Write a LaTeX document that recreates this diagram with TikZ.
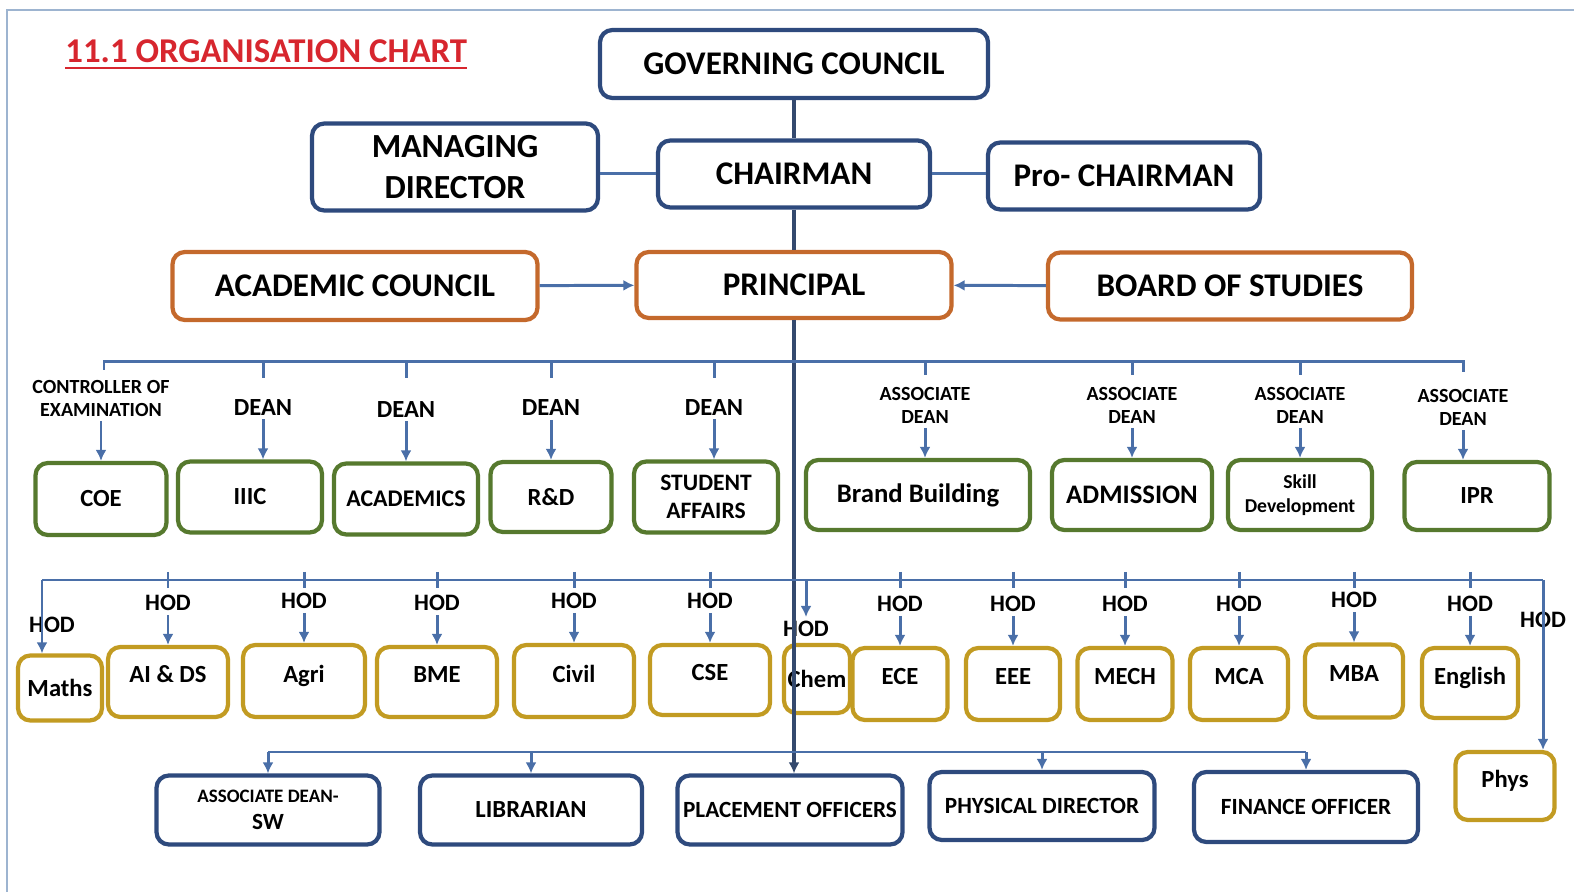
\documentclass[tikz,border=0pt]{standalone}
\usepackage{fontspec}
\setmainfont{Carlito}
\usetikzlibrary{arrows.meta,positioning}

\definecolor{navy}{HTML}{2E4A7D}
\definecolor{rust}{HTML}{C4692C}
\definecolor{olive}{HTML}{56792E}
\definecolor{gold}{HTML}{C29B22}
\definecolor{wire}{HTML}{4A6FA8}
\definecolor{spinec}{HTML}{34496E}
\definecolor{framec}{HTML}{9DB4D0}
\definecolor{titlered}{HTML}{D7262E}

\newcommand{\fsz}[2]{\fontsize{#1pt}{#2pt}\selectfont}

\begin{document}
\begin{tikzpicture}[x=0.01cm,y=-0.01cm,font=\bfseries,
 box/.style={rounded corners=3.5pt,line width=1.2pt,align=center,inner sep=1pt},
 wh/.style 2 args={minimum width=#1*0.01cm,minimum height=#2*0.01cm},
 bluebox/.style={box,draw=navy,font=\bfseries\fsz{9.4}{11}},
 orangebox/.style={box,draw=rust,font=\bfseries\fsz{9.4}{11}},
 greenbox/.style={box,draw=olive,font=\bfseries\fsz{7}{8}},
 yellowbox/.style={box,draw=gold,font=\bfseries\fsz{7}{8},text depth=1.5mm},
 staffbox/.style={box,draw=navy,font=\bfseries\fsz{6.6}{7.5}},
 dean/.style={inner sep=1pt,align=center,font=\bfseries\fsz{7}{8}},
 assoc/.style={inner sep=1pt,align=center,font=\bfseries\fsz{5.7}{6.6}},
 hod/.style={inner sep=1pt,font=\bfseries\fsz{6.7}{7.5}},
 link/.style={draw=wire,line width=0.85pt},
 arr/.style={link,-{Latex[length=1.1mm,width=1.1mm]}},
 spine/.style={draw=spinec,line width=0.9pt}]
\useasboundingbox (0,0) rectangle (1574,892);
\draw[framec,line width=0.7pt] (1574,10) -- (7,10) -- (7,892);

\node[text=titlered,anchor=west,font=\bfseries\fsz{9.9}{11}] (title) at (53,55) {\underline{11.1 ORGANISATION CHART}};

% management
\node[bluebox,wh={388}{68}] (gc) at (794,64) {GOVERNING COUNCIL};
\node[bluebox,wh={272}{67}] (chair) at (794,174) {CHAIRMAN};
\node[bluebox,wh={286}{87},font=\bfseries\fsz{9.6}{11.5}] (md) at (455,167) {MANAGING\\DIRECTOR};
\node[bluebox,wh={272}{67}] (pro) at (1124,176) {Pro- CHAIRMAN};
\node[orangebox,wh={365}{68}] (ac) at (355,286) {ACADEMIC COUNCIL};
\node[orangebox,wh={315}{66}] (prin) at (794,285) {PRINCIPAL};
\node[orangebox,wh={364}{67}] (bos) at (1230,286) {BOARD OF STUDIES};

% deans and associate deans
\node[greenbox,wh={131}{72}] (coe) at (101,499) {COE};
\node[greenbox,wh={144}{71}] (iiic) at (250,497) {IIIC};
\node[greenbox,wh={144}{71},font=\bfseries\fsz{6.8}{8}] (acad) at (406,499) {ACADEMICS};
\node[greenbox,wh={121}{70}] (rnd) at (551,497) {R\&D};
\node[greenbox,wh={144}{71},font=\bfseries\fsz{6.7}{8}] (sa) at (706,497) {STUDENT\\AFFAIRS};
\node[greenbox,wh={224}{70},font=\bfseries\fsz{7.6}{8}] (bb) at (918,495) {Brand Building};
\node[greenbox,wh={160}{70},font=\bfseries\fsz{7.6}{8}] (adm) at (1132,495) {ADMISSION};
\node[greenbox,wh={144}{70},font=\bfseries\fsz{5.6}{6.8}] (skill) at (1300,495) {Skill\\Development};
\node[greenbox,wh={145}{68}] (ipr) at (1477,496) {IPR};

\node[assoc,above=4mm of coe] (coel) {CONTROLLER OF\\EXAMINATION};
\node[dean,above=4mm of iiic,xshift=1.3mm] (iiicl) {DEAN};
\node[dean,above=4mm of acad] (acadl) {DEAN};
\node[dean,above=4mm of rnd] (rndl) {DEAN};
\node[dean,above=4mm of sa,xshift=.8mm] (sal) {DEAN};
\node[assoc,above=3mm of bb,xshift=.7mm] (bbl) {ASSOCIATE\\DEAN};
\node[assoc,above=3mm of adm] (adml) {ASSOCIATE\\DEAN};
\node[assoc,above=3mm of skill] (skilll) {ASSOCIATE\\DEAN};
\node[assoc,above=3mm of ipr,xshift=-1.4mm] (iprl) {ASSOCIATE\\DEAN};

% heads of department
\node[yellowbox,wh={84}{65},text depth=0pt] (maths) at (60,688) {Maths};
\node[yellowbox,wh={120}{70}] (aids) at (168,682) {AI \& DS};
\node[yellowbox,wh={122}{72}] (agri) at (304,681) {Agri};
\node[yellowbox,wh={120}{70}] (bme) at (437,682) {BME};
\node[yellowbox,wh={120}{72}] (civil) at (574,681) {Civil};
\node[yellowbox,wh={120}{70}] (cse) at (710,680) {CSE};
\node[yellowbox,wh={66}{68},text depth=0pt] (chem) at (817,679) {Chem};
\node[yellowbox,wh={95}{72}] (ece) at (900,684) {ECE};
\node[yellowbox,wh={94}{72}] (eee) at (1013,684) {EEE};
\node[yellowbox,wh={95}{72}] (mech) at (1125,684) {MECH};
\node[yellowbox,wh={98}{72}] (mca) at (1239,684) {MCA};
\node[yellowbox,wh={98}{73}] (mba) at (1354,681) {MBA};
\node[yellowbox,wh={96}{70}] (eng) at (1470,683) {English};
\node[yellowbox,wh={99}{68}] (phys) at (1505,786) {Phys};

\node[hod] (hodmaths) at (52,625) {HOD};
\node[hod,above=3mm of aids] (hodaids) {HOD};
\node[hod,above=3mm of agri] (hodagri) {HOD};
\node[hod,above=3mm of bme] (hodbme) {HOD};
\node[hod,above=3mm of civil] (hodcivil) {HOD};
\node[hod,above=3mm of cse] (hodcse) {HOD};
\node[hod] (hodchem) at (806,629) {HOD};
\node[hod,above=3mm of ece] (hodece) {HOD};
\node[hod,above=3mm of eee] (hodeee) {HOD};
\node[hod,above=3mm of mech] (hodmech) {HOD};
\node[hod,above=3mm of mca] (hodmca) {HOD};
\node[hod,above=3mm of mba] (hodmba) {HOD};
\node[hod,above=3mm of eng] (hodeng) {HOD};
\node[hod] (hodphys) at (1543,620) {HOD};

% support staff
\node[staffbox,wh={223}{69}] (adsw) at (268,810) {{\fsz{5.4}{6.6}ASSOCIATE DEAN-}\\SW};
\node[staffbox,wh={222}{69},font=\bfseries\fsz{7}{8}] (lib) at (531,810) {LIBRARIAN};
\node[staffbox,wh={225}{69}] (place) at (790,810) {PLACEMENT OFFICERS};
\node[staffbox,wh={225}{68}] (pd) at (1042,806) {PHYSICAL DIRECTOR};
\node[staffbox,wh={224}{70}] (fo) at (1306,807) {FINANCE OFFICER};

% bus points
\coordinate (dl) at (104,362); \coordinate (dr) at (1463,362);
\coordinate (hl) at (42,580); \coordinate (hr) at (1543,580);
\coordinate (bl) at (268,752); \coordinate (br) at (1306,752);

% top of the chart
\draw[spine] (gc)--(chair); \draw[spine] (chair)--(prin);
\draw[link] (md.east |- chair.west)--(chair.west); \draw[link] (chair.east)--(chair.east -| pro.west);
\draw[arr] (ac)--(prin); \draw[arr] (bos)--(prin);
\draw[spine,-{Latex[length=1.1mm,width=1.1mm]}] (prin)--(prin |- place.north);

% deans
\draw[link] (dl) ++(0,8) -- (dl) -- (dr) -- ++(0,10);
\draw[link] (iiicl |- dl) -- ++(0,16); \draw[link] (acadl |- dl) -- ++(0,16);
\draw[link] (rndl |- dl) -- ++(0,16); \draw[link] (sal |- dl) -- ++(0,16);
\draw[link] (bbl |- dl) -- ++(0,13); \draw[link] (adml |- dl) -- ++(0,13);
\draw[link] (skilll |- dl) -- ++(0,13);
\draw[arr] (coel)--(coel |- coe.north); \draw[arr] (iiicl)--(iiicl |- iiic.north);
\draw[arr] (acadl)--(acadl |- acad.north); \draw[arr] (rndl)--(rndl |- rnd.north);
\draw[arr] (sal)--(sal |- sa.north); \draw[arr] (bbl)--(bbl |- bb.north);
\draw[arr] (adml)--(adml |- adm.north); \draw[arr] (skilll)--(skilll |- skill.north);
\draw[arr] (iprl)--(iprl |- ipr.north);

% heads of department
\draw[link] (hl)--(hr);
\draw[arr] (hl)--(hl |- maths.north); \draw[arr] (hr)--(hr |- phys.north);
\draw[arr] (hodchem |- hl)--(hodchem);
\draw[link] (hodaids |- hl) ++(0,-8) -- ++(0,16); \draw[link] (hodagri |- hl) ++(0,-8) -- ++(0,16);
\draw[link] (hodbme |- hl) ++(0,-8) -- ++(0,16); \draw[link] (hodcivil |- hl) ++(0,-8) -- ++(0,16);
\draw[link] (hodcse |- hl) ++(0,-8) -- ++(0,16); \draw[link] (hodece |- hl) ++(0,-8) -- ++(0,16);
\draw[link] (hodeee |- hl) ++(0,-8) -- ++(0,16); \draw[link] (hodmech |- hl) ++(0,-8) -- ++(0,16);
\draw[link] (hodmca |- hl) ++(0,-8) -- ++(0,16); \draw[link] (hodmba |- hl) ++(0,-8) -- ++(0,16);
\draw[link] (hodeng |- hl) ++(0,-8) -- ++(0,16);
\draw[arr] (hodaids)--(aids); \draw[arr] (hodagri)--(agri); \draw[arr] (hodbme)--(bme);
\draw[arr] (hodcivil)--(civil); \draw[arr] (hodcse)--(cse); \draw[arr] (hodece)--(ece);
\draw[arr] (hodeee)--(eee); \draw[arr] (hodmech)--(mech); \draw[arr] (hodmca)--(mca);
\draw[arr] (hodmba)--(mba); \draw[arr] (hodeng)--(eng);

% support staff
\draw[link] (bl)--(br);
\draw[arr] (bl)--(adsw); \draw[arr] (lib |- bl)--(lib); \draw[arr] (pd |- bl)--(pd); \draw[arr] (br)--(fo);
\end{tikzpicture}
\end{document}
